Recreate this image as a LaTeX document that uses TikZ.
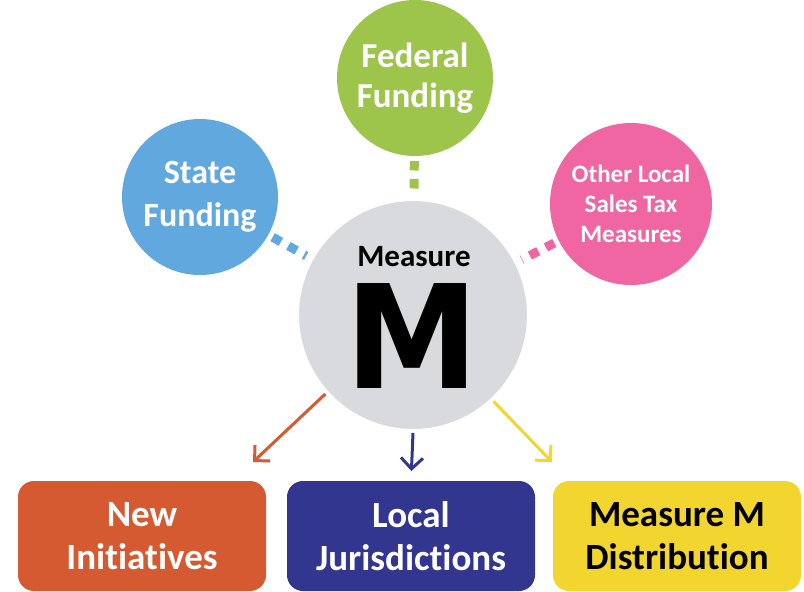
\documentclass[tikz,border=0pt]{standalone}
\usepackage{fontspec}
\setmainfont{Carlito}[Ligatures=CommonOff]
\newfontfamily\heavyfont{DejaVu Sans}
\usepackage{tikz}
\usetikzlibrary{arrows.meta,backgrounds,positioning}
\definecolor{mmgray}{RGB}{217,218,221}
\definecolor{stateblue}{RGB}{96,168,222}
\definecolor{fedgreen}{RGB}{157,197,76}
\definecolor{otherpink}{RGB}{240,102,163}
\definecolor{niorange}{RGB}{213,89,49}
\definecolor{ljblue}{RGB}{50,54,143}
\definecolor{mdyellow}{RGB}{243,213,48}
\tikzstyle{bubble} = [circle,inner sep=0pt,outer sep=0pt,align=center,text=white]
\tikzstyle{pot} = [rectangle,rounded corners=16pt,inner sep=0pt,outer sep=0pt,minimum width=248pt,minimum height=110pt,align=center,font=\bfseries\fontsize{37}{43}\selectfont]
\tikzstyle{dots} = [line width=9pt,dash pattern=on 9.5pt off 8.5pt,dash phase=13pt]
\tikzstyle{flow} = [line width=3pt,-{Straight Barb[length=11pt,width=22pt]}]

\begin{document}
\begin{tikzpicture}[x=1pt,y=-1pt]
        \useasboundingbox (0,0) rectangle (804,592);

        \node[bubble,fill=mmgray,draw=white,line width=8pt,minimum size=236pt] (mm) at (413,315) {};
        \node[anchor=base,inner sep=0pt,font=\bfseries\fontsize{31}{33}\selectfont] (mtitle) at (414,266) {Measure};
        \node[anchor=base,inner sep=0pt,text height=105pt,text depth=0pt,xscale=0.93,font=\heavyfont\bfseries\fontsize{144}{144}\selectfont] (mletter) at (412,388) {M};

        \node[bubble,fill=fedgreen,minimum size=156pt,font=\bfseries\fontsize{35}{40}\selectfont] (ff) at (415,78) {Federal\\Funding};
        \node[bubble,fill=stateblue,minimum size=156pt,font=\bfseries\fontsize{34}{43}\selectfont] (sf) at (200,197) {State\\Funding};
        \node[bubble,fill=otherpink,minimum size=162pt,font=\bfseries\fontsize{25}{30}\selectfont] (ol) at (631,204) {Other Local\\Sales Tax\\Measures};

        \node[pot,fill=niorange,text=white] (ni) at (142,536) {New\\Initiatives};
        \node[pot,fill=ljblue,text=white] (lj) at (411,536) {Local\\Jurisdictions};
        \node[pot,fill=mdyellow,text=black] (md) at (677,536) {Measure M\\Distribution};

        % dotted links sit under the white rim of the big circle
        \begin{scope}[on background layer]
        \draw[dots,fedgreen] (ff) -- (mm);
        \draw[dots,stateblue] (sf) -- (mm);
        \draw[dots,otherpink] (ol) -- (mm);
        \end{scope}

        \coordinate (nitip) at (253,462);
        \coordinate (mdtip) at (552,462);
        \draw[flow,niorange] (mm.222) -- (nitip);
        \draw[flow,ljblue,shorten >=10pt] (mm.south) -- (lj.north);
        \draw[flow,mdyellow] (mm.313) -- (mdtip);
\end{tikzpicture}
\end{document}
